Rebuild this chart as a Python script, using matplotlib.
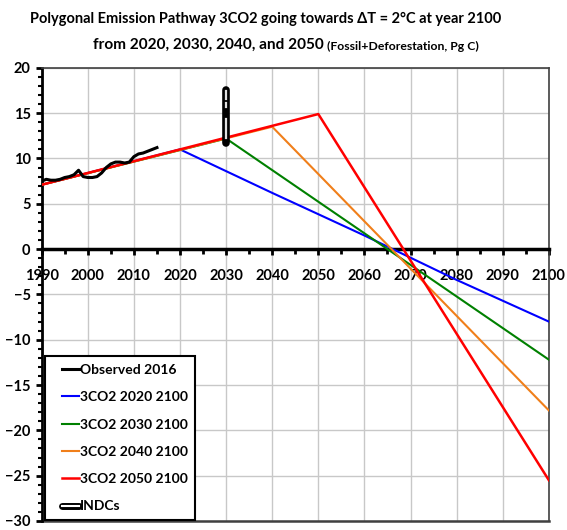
import matplotlib
matplotlib.use('Agg')
from matplotlib import pyplot as plt
from matplotlib.ticker import MultipleLocator
from matplotlib.lines import Line2D
from matplotlib.legend_handler import HandlerTuple, HandlerLine2D

plt.rcParams['font.family'] = ['Lato', 'DejaVu Sans']
plt.rcParams['font.weight'] = 'bold'

# observed emissions (Pg C)
obs_years = list(range(1990, 2016))
obs_vals = [7.5, 7.7, 7.6, 7.6, 7.7, 7.9, 8.0, 8.2, 8.7, 8.0, 7.9, 7.9, 8.0, 8.4,
            9.0, 9.4, 9.6, 9.6, 9.5, 9.6, 10.2, 10.5, 10.6, 10.8, 11.0, 11.2]

# polygonal pathways
p2020_x = [1990, 2020, 2040, 2060, 2080, 2100]
p2020_y = [7.1, 11.0, 6.2, 1.5, -3.4, -8.0]
p2030_x = [1990, 2030, 2100]
p2030_y = [7.1, 12.2, -12.2]
p2040_x = [1990, 2040, 2100]
p2040_y = [7.1, 13.5, -17.8]
p2050_x = [1990, 2050, 2100]
p2050_y = [7.1, 14.9, -25.5]

# INDCs range at 2030
indc_year = 2030
indc_lo, indc_hi = 11.7, 17.6
indc_pieces = [(12.3, 14.4), (15.7, 16.1), (16.6, 17.4)]


class ShortLine(HandlerLine2D):
    # draw the legend line only on the right part of the handle box
    def create_artists(self, legend, orig_handle, xdescent, ydescent, width,
                       height, fontsize, trans):
        off = 6.8
        return super().create_artists(legend, orig_handle, xdescent - off, ydescent,
                                      width - off, height, fontsize, trans)


fig = plt.figure(figsize=(5.67, 5.30), dpi=100)
ax = fig.add_axes([0.0735, 0.017, 0.8945, 0.855])

ax.plot(p2020_x, p2020_y, color='#0000ff', lw=1.5, label='3CO2 2020 2100', zorder=3)
ax.plot(p2030_x, p2030_y, color='#008000', lw=1.5, label='3CO2 2030 2100', zorder=3)
ax.plot(p2040_x, p2040_y, color='#f07f1a', lw=1.5, label='3CO2 2040 2100', zorder=3)
ax.plot(p2050_x, p2050_y, color='#ff0000', lw=1.8, label='3CO2 2050 2100', zorder=4)
ax.plot(obs_years, obs_vals, color='black', lw=2.2, label='Observed 2016', zorder=5)

ax.plot([indc_year, indc_year], [indc_lo, indc_hi], color='black', lw=5.5,
        solid_capstyle='round', zorder=6)
for a, b in indc_pieces:
    ax.plot([indc_year, indc_year], [a, b], color='#e0e0e0', lw=1.6, zorder=7)

ax.set_xlim(1990, 2100)
ax.set_ylim(-30, 20)
ax.xaxis.set_major_locator(MultipleLocator(10))
ax.xaxis.set_minor_locator(MultipleLocator(5))
ax.yaxis.set_major_locator(MultipleLocator(5))
ax.yaxis.set_minor_locator(MultipleLocator(1))
ax.grid(True, which='major', color='#c8c8c8', lw=1)
ax.set_axisbelow(True)

for s in ['top', 'right']:
    ax.spines[s].set_color('#404040')
    ax.spines[s].set_linewidth(1.2)
ax.spines['left'].set_linewidth(2)
ax.spines['bottom'].set_position(('data', 0))
ax.spines['bottom'].set_linewidth(2.5)
ax.axhline(-30, color='#404040', lw=1.8, clip_on=False)

ax.tick_params(axis='x', which='major', direction='out', length=4, width=2,
               labelsize=10.5, pad=10)
ax.tick_params(axis='x', which='minor', direction='out', length=3.5, width=2)
ax.tick_params(axis='y', which='major', direction='out', length=4, width=2,
               labelsize=10.5, pad=4)
ax.tick_params(axis='y', which='minor', direction='out', length=3, width=1.5)
for lab in ax.get_xticklabels() + ax.get_yticklabels():
    lab.set_fontweight('bold')

indc_handle = (Line2D([], [], color='black', lw=5, solid_capstyle='round'),
               Line2D([], [], color='white', lw=1.5))
handles, labels = ax.get_legend_handles_labels()
order = [4, 0, 1, 2, 3]
handles = [handles[i] for i in order] + [indc_handle]
labels = [labels[i] for i in order] + ['INDCs']
leg = ax.legend(handles, labels, loc='lower left', bbox_to_anchor=(0.006, 0.002),
                borderaxespad=0, fontsize=10, handlelength=1.92, handletextpad=0.05,
                labelspacing=1.1, borderpad=0.55, fancybox=False,
                edgecolor='black', framealpha=1,
                handler_map={Line2D: ShortLine(),
                             tuple: HandlerTuple(ndivide=1, pad=0)})
leg.get_frame().set_linewidth(1.5)
for t in leg.get_texts():
    t.set_fontweight('bold')

fig.text(0.468, 0.965, 'Polygonal Emission Pathway 3CO2 going towards \u0394T = 2\u00b0C at year 2100',
         ha='center', va='center', fontsize=10.5, fontweight='bold')
fig.text(0.577, 0.915, 'from 2020, 2030, 2040, and 2050 ', ha='right', va='center',
         fontsize=11.1, fontweight='bold')
fig.text(0.577, 0.913, '(Fossil+Deforestation, Pg C)', ha='left', va='center',
         fontsize=8.8, fontweight='bold')

fig.savefig('out.png', dpi=100)
